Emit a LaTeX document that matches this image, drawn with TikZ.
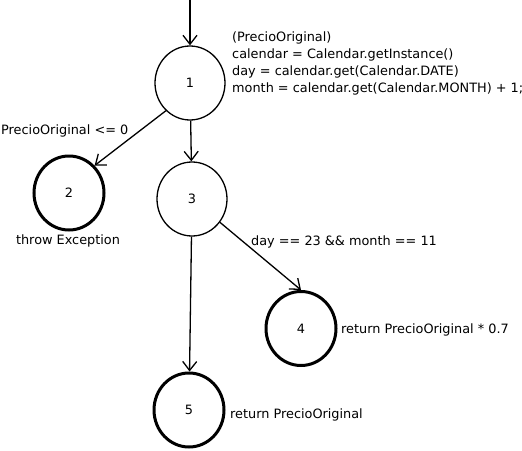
\documentclass[tikz,border=0pt]{standalone}
\usepackage{fontspec}
\setmainfont{DejaVu Sans}
\usetikzlibrary{arrows.meta,shapes.geometric}
\begin{document}
\begin{tikzpicture}[x=1pt,y=-1pt,
  every node/.style={font=\fontsize{12.85}{16.7}\selectfont, inner sep=0pt},
  state/.style={draw, ellipse, minimum width=70pt, minimum height=74pt, line width=1.3pt},
  final/.style={state, line width=3pt},
  flow/.style={draw, line width=1.3pt, -{Straight Barb[length=9pt,width=14pt,line width=1.3pt]}},
  lbl/.style={anchor=west}]
\useasboundingbox (0,0) rectangle (522,450);
\coordinate (start) at (190,0);
\node[state] (n1) at (190,83) {1};
\node[final] (n2) at (69,193) {2};
\node[state] (n3) at (192,199) {3};
\node[final] (n4) at (301,328.5) {4};
\node[final] (n5) at (189,410) {5};
\draw[flow] (start) -- (n1);
\draw[flow] (n1.229) -- (n2.47);
\draw[flow] (n1) -- (n3);
\draw[flow] (n3) -- (n4.north);
\draw[flow] (n3) -- (n5);
\node[lbl, align=left, anchor=north west] (t1) at (232,32) {(PrecioOriginal)\\calendar = Calendar.getInstance()\\day = calendar.get(Calendar.DATE)\\month = calendar.get(Calendar.MONTH) + 1;};
\node[lbl] (t2) at (1,131) {PrecioOriginal <= 0};
\node (t3) at (68,241) {throw Exception};
\node[lbl] (t4) at (251,242) {day == 23 \&\& month == 11};
\node[lbl] (t5) at (341,330) {return PrecioOriginal * 0.7};
\node[lbl] (t6) at (230,415) {return PrecioOriginal};
\end{tikzpicture}
\end{document}
